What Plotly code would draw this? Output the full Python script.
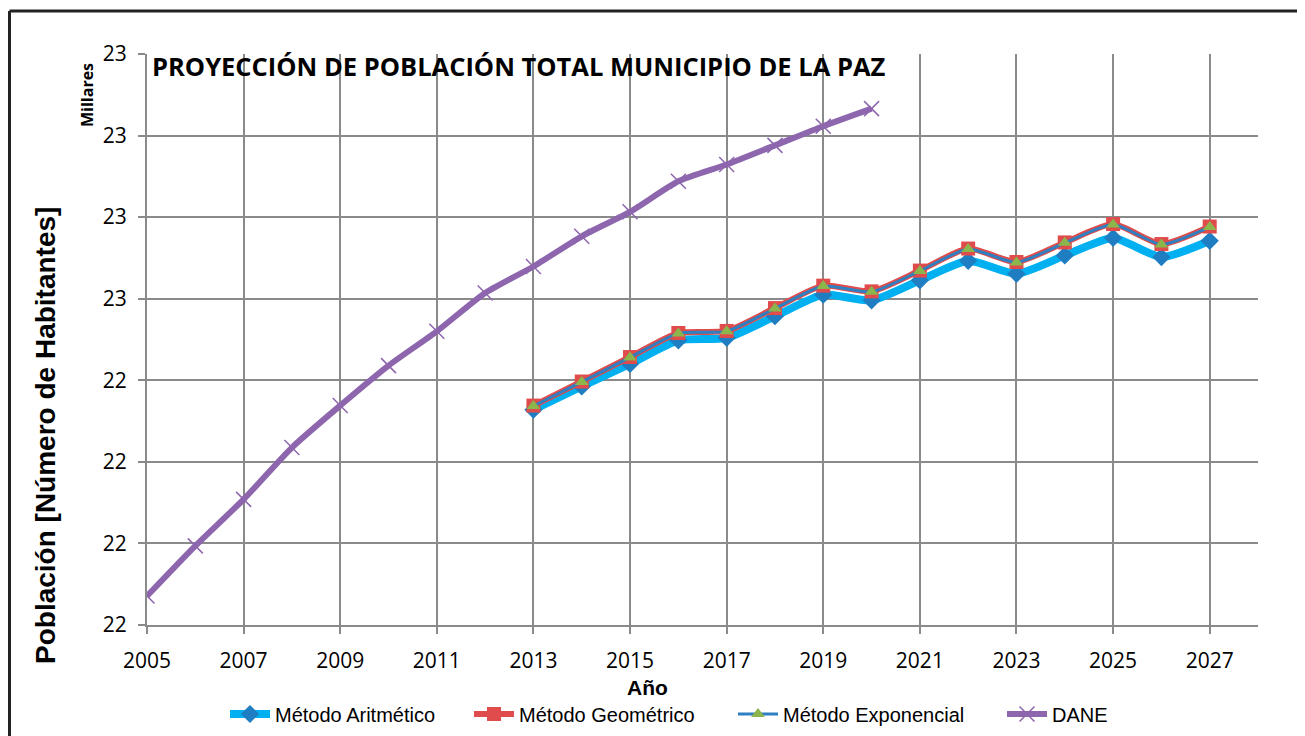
import plotly.graph_objects as go

years_dane = list(range(2005, 2021))
dane = [21.871, 21.994, 22.108, 22.235, 22.338, 22.436, 22.520, 22.614,
        22.679, 22.753, 22.813, 22.888, 22.929, 22.976, 23.023, 23.066]

years_proj = list(range(2013, 2028))
aritmetico = [22.328, 22.385, 22.440, 22.498, 22.504, 22.557, 22.610, 22.596,
              22.645, 22.693, 22.661, 22.706, 22.749, 22.702, 22.742]
geometrico = [22.338, 22.397, 22.457, 22.516, 22.521, 22.577, 22.632, 22.618,
              22.669, 22.723, 22.690, 22.738, 22.783, 22.734, 22.777]
exponencial = [22.337, 22.396, 22.456, 22.515, 22.520, 22.576, 22.631, 22.617,
               22.668, 22.722, 22.689, 22.737, 22.782, 22.733, 22.776]

title_text = "PROYECCIÓN DE POBLACIÓN TOTAL MUNICIPIO DE LA PAZ"
y_title = "Población [Número de Habitantes]"
x_title = "Año"

OFF = 8  # page body margin
W, H = 1297, 728
L, T = 147 - OFF, 54 - OFF
R = W - (1258 - OFF)
B = H - (625 - OFF)
pw, ph = W - L - R, H - T - B


def px(xwin):
    return (xwin - OFF - L) / pw


def py(ywin):
    return ((H - B) - (ywin - OFF)) / ph


fig = go.Figure()
fig.add_trace(go.Scatter(
    x=years_proj, y=aritmetico, name="Método Aritmético", mode="lines+markers", legend="legend",
    line=dict(color="#00B0F0", width=8, shape="spline", smoothing=0.6),
    marker=dict(symbol="diamond", size=14, color="#1F7DC2")))
fig.add_trace(go.Scatter(
    x=years_proj, y=geometrico, name="Método Geométrico", mode="lines+markers", legend="legend2",
    line=dict(color="#E04B4B", width=6, shape="spline", smoothing=0.6),
    marker=dict(symbol="square", size=14, color="#E04B4B")))
fig.add_trace(go.Scatter(
    x=years_proj, y=exponencial, name="Método Exponencial", mode="lines+markers", legend="legend3",
    line=dict(color="#2F7FC1", width=3, shape="spline", smoothing=0.6),
    marker=dict(symbol="triangle-up", size=12, color="#8CB54C")))
fig.add_trace(go.Scatter(
    x=years_dane, y=dane, name="DANE", mode="lines+markers", legend="legend4",
    line=dict(color="#8D66AE", width=6, shape="spline", smoothing=0.6),
    marker=dict(symbol="x-thin", size=15, color="#8D66AE",
                line=dict(color="#8D66AE", width=1.5))))


def leg(xwin):
    return dict(orientation="h", x=px(xwin), xanchor="left", y=py(714), yanchor="middle",
                font=dict(family="Liberation Sans, Arial", size=20), itemwidth=40,
                bgcolor="rgba(0,0,0,0)")


grid = "#8A8A8A"
fig.update_layout(
    width=W, height=H,
    margin=dict(l=L, r=R, t=T, b=B, pad=0, autoexpand=False),
    paper_bgcolor="white", plot_bgcolor="white",
    font=dict(family="Open Sans, Arial", color="black"),
    showlegend=True,
    legend=leg(225), legend2=leg(469), legend3=leg(733), legend4=leg(1002),
    xaxis=dict(range=[2005, 2028], tick0=2005, dtick=2, showgrid=True, gridcolor=grid,
               gridwidth=2, showline=True, linecolor=grid, linewidth=2, ticks="outside",
               ticklen=7, tickwidth=2, tickcolor=grid, zeroline=False, automargin=False,
               ticklabelstandoff=9,
               tickfont=dict(family="Open Sans, Arial", size=21)),
    yaxis=dict(range=[21.8, 23.2], tick0=21.8, dtick=0.2, tickformat=".0f", showgrid=True,
               gridcolor=grid, gridwidth=2, showline=True, linecolor=grid, linewidth=2,
               ticks="outside", ticklen=7, tickwidth=2, tickcolor=grid, zeroline=False,
               automargin=False, ticklabelstandoff=7,
               tickfont=dict(family="Open Sans, Arial", size=21)),
)

fig.add_annotation(text="<b>" + title_text + "</b>", xref="paper", yref="paper",
                   x=px(150), y=py(66), xanchor="left", yanchor="middle", showarrow=False,
                   font=dict(family="Open Sans, Arial", size=25.5, color="black"))
fig.add_annotation(text="<b>" + y_title + "</b>", xref="paper", yref="paper",
                   x=px(45), y=py(436), xanchor="center", yanchor="middle", showarrow=False,
                   textangle=-90, font=dict(family="Liberation Sans, Arial", size=28, color="black"))
fig.add_annotation(text="<b>Millares</b>", xref="paper", yref="paper",
                   x=px(87), y=py(95), xanchor="center", yanchor="middle", showarrow=False,
                   textangle=-90, font=dict(family="Open Sans, Arial", size=16, color="black"))
fig.add_annotation(text="<b>" + x_title + "</b>", xref="paper", yref="paper",
                   x=px(647), y=py(687), xanchor="center", yanchor="middle", showarrow=False,
                   font=dict(family="Liberation Sans, Arial", size=21, color="black"))

fig.add_shape(type="line", xref="paper", yref="paper", x0=px(9.5), x1=px(1320), y0=py(11), y1=py(11),
              line=dict(color="#222222", width=3))
fig.add_shape(type="line", xref="paper", yref="paper", x0=px(9.5), x1=px(9.5), y0=py(11), y1=py(750),
              line=dict(color="#222222", width=3))

fig.write_html("out.html")
